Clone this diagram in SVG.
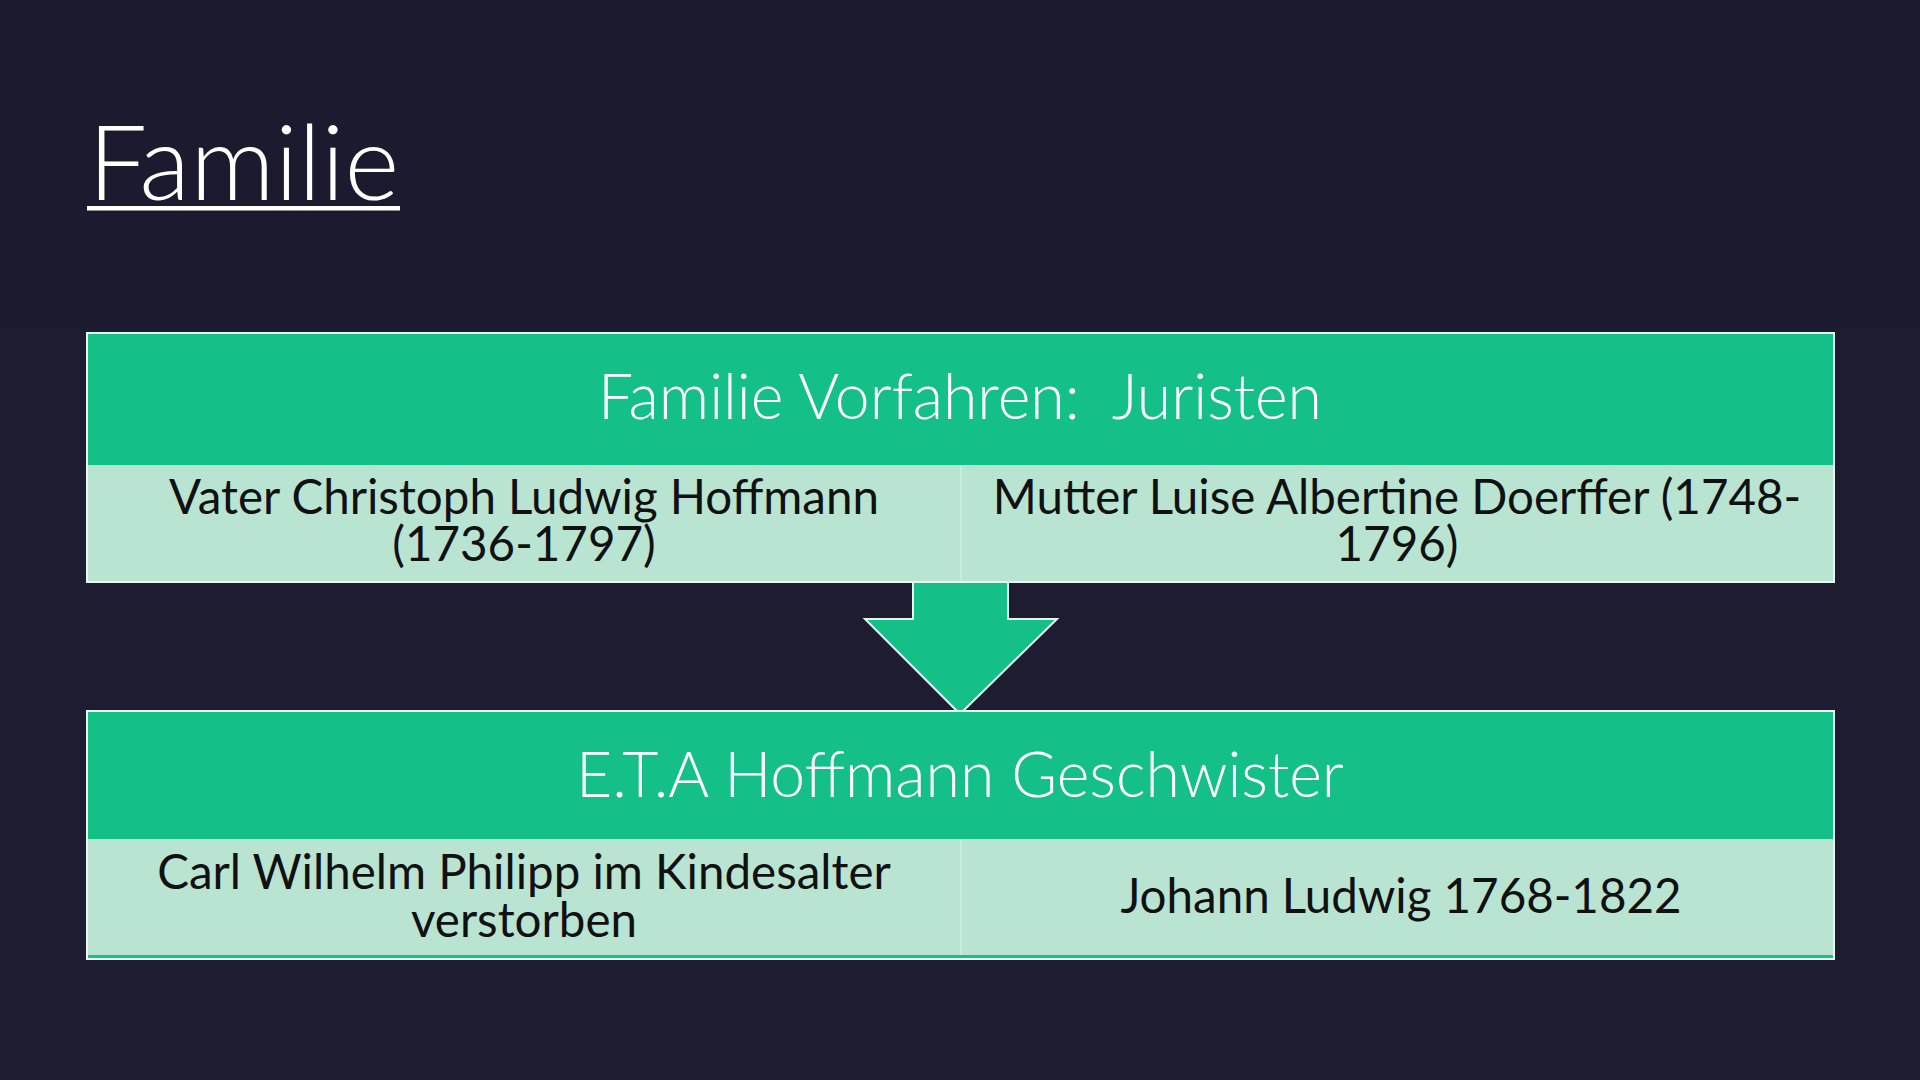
<svg xmlns="http://www.w3.org/2000/svg" width="1920" height="1080" viewBox="0 0 1920 1080">
<style>
.t{font-family:Lato,"Noto Sans","Liberation Sans",sans-serif}
.hdr{fill:#15bf88}
.row{fill:#b9e4d2}
.frame{fill:none;stroke:#e6f7f0;stroke-width:2}
.ht{fill:#ffffff;font-size:62.5px;font-weight:300;text-anchor:middle}
.rt{fill:#111111;font-size:47.5px;text-anchor:middle}
.div{stroke:#cdeee0;stroke-width:1.5}
</style>
<rect x="0" y="0" width="1920" height="1080" fill="#1e1c31"/>
<rect x="0" y="0" width="1920" height="328" fill="#1c1a2e"/>
<g id="title">
<text class="t" x="88" y="200" font-size="105" font-weight="300" fill="#ffffff">Familie</text>
<rect x="87" y="206" width="313" height="4.5" fill="#ffffff"/>
</g>
<g id="connectors">
<path d="M913,582 L1008,582 L1008,619 L1057,619 L960,714 L865,619 L913,619 Z" fill="#15bf88" stroke="#e6f7f0" stroke-width="2" stroke-linejoin="miter"/>
<rect x="914" y="580" width="93" height="4" fill="#15bf88"/>
</g>
<g id="node-vorfahren">
<rect class="hdr" x="87" y="333" width="1747" height="132"/>
<rect class="row" x="87" y="465" width="1747" height="117"/>
<line class="div" x1="961" y1="465" x2="961" y2="582"/>
<rect class="frame" x="87" y="333" width="1747" height="249"/>
<text class="t ht" x="960" y="419" xml:space="preserve">Familie Vorfahren:  Juristen</text>
<text class="t rt"><tspan x="524" y="514">Vater Christoph Ludwig Hoffmann</tspan><tspan x="524" y="561">(1736-1797)</tspan></text>
<text class="t rt"><tspan x="1397" y="514">Mutter Luise Albertine Doerffer (1748-</tspan><tspan x="1397" y="561">1796)</tspan></text>
</g>
<g id="node-geschwister">
<rect class="hdr" x="87" y="711" width="1747" height="128"/>
<rect class="row" x="87" y="839" width="1747" height="116"/>
<rect class="hdr" x="87" y="955" width="1747" height="3"/>
<line class="div" x1="961" y1="839" x2="961" y2="955"/>
<rect class="frame" x="87" y="711" width="1747" height="248"/>
<text class="t ht" x="960" y="797">E.T.A Hoffmann Geschwister</text>
<text class="t rt"><tspan x="524" y="889">Carl Wilhelm Philipp im Kindesalter</tspan><tspan x="524" y="937">verstorben</tspan></text>
<text class="t rt" x="1401" y="913">Johann Ludwig 1768-1822</text>
</g>
</svg>
